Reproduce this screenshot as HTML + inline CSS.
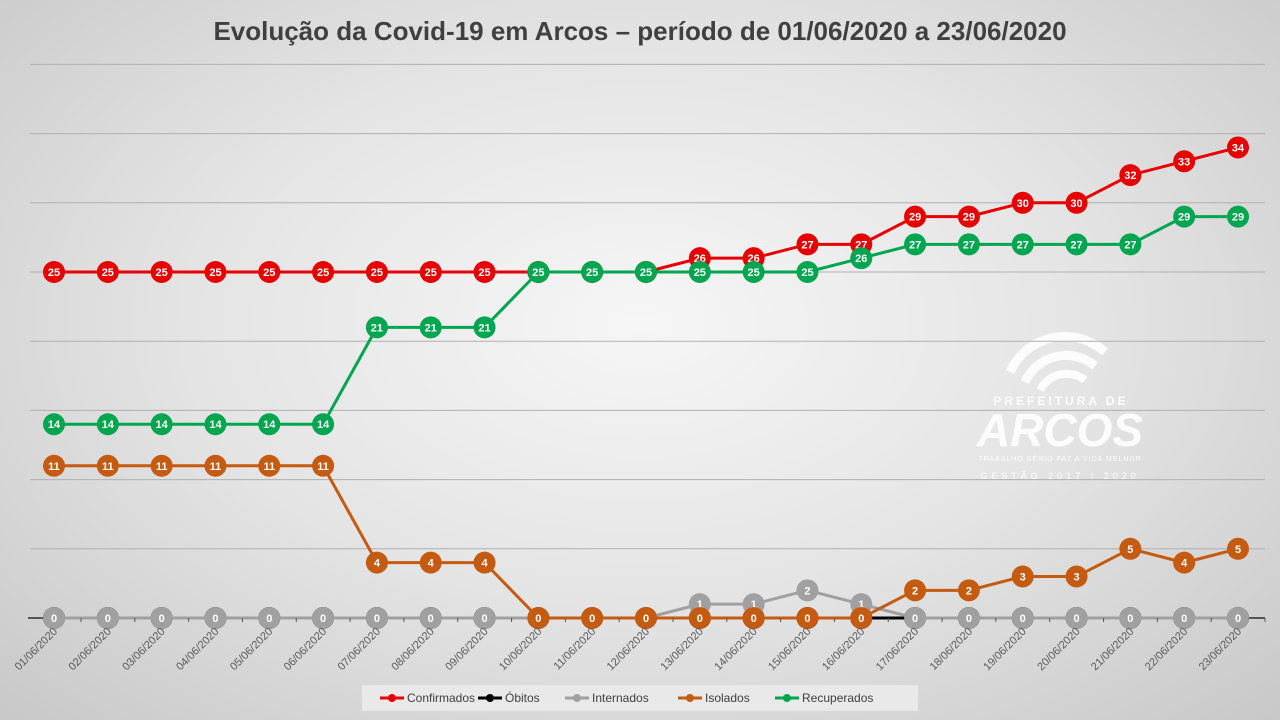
<!DOCTYPE html>
<html><head><meta charset="utf-8"><style>
body{margin:0;width:1280px;height:720px;overflow:hidden;font-family:"Liberation Sans",sans-serif}
#bg{position:absolute;left:0;top:0;width:1280px;height:720px;background:radial-gradient(ellipse at 50% 45%,#f6f6f6 0%,#e4e4e4 50%,#c8c8c8 100%)}
svg{position:absolute;left:0;top:0}
</style></head><body>
<div id="bg"></div>
<svg id="c" width="1280" height="720">
<text x="640" y="40" text-anchor="middle" font-size="26" font-weight="bold" fill="#404040">Evolução da Covid-19 em Arcos – período de 01/06/2020 a 23/06/2020</text>
<g fill="#fff" opacity="0.9">
<path d="M1010 372 A60 60 0 0 1 1105 352" stroke="#fff" stroke-width="9" fill="none"/>
<path d="M1025 382 A45 45 0 0 1 1095 366" stroke="#fff" stroke-width="9" fill="none"/>
<path d="M1040 390 A30 30 0 0 1 1085 380" stroke="#fff" stroke-width="8" fill="none"/>
<text x="1061" y="405" text-anchor="middle" font-size="12" font-weight="bold" letter-spacing="3">PREFEITURA DE</text>
<text x="1060" y="446" text-anchor="middle" font-size="46" font-weight="bold" font-style="italic">ARCOS</text>
<text x="1060" y="461" text-anchor="middle" font-size="7" letter-spacing="1">TRABALHO SÉRIO FAZ A VIDA MELHOR</text>
<text x="1060" y="479" text-anchor="middle" font-size="9" letter-spacing="4">GESTÃO 2017 | 2020</text>
</g>
<g id="grid"></g><g id="series"></g><g id="xl"></g>
<g>
<rect x="362" y="685" width="556" height="26" fill="#e9e9e9"/>
</g>
<g id="leg"></g>
</svg>
<script>
const categories=["01/06/2020","02/06/2020","03/06/2020","04/06/2020","05/06/2020","06/06/2020","07/06/2020","08/06/2020","09/06/2020","10/06/2020","11/06/2020","12/06/2020","13/06/2020","14/06/2020","15/06/2020","16/06/2020","17/06/2020","18/06/2020","19/06/2020","20/06/2020","21/06/2020","22/06/2020","23/06/2020"];
const confirmados=[25,25,25,25,25,25,25,25,25,25,25,25,26,26,27,27,29,29,30,30,32,33,34];
const obitos=[0,0,0,0,0,0,0,0,0,0,0,0,0,0,0,0,0,0,0,0,0,0,0];
const internados=[0,0,0,0,0,0,0,0,0,0,0,0,1,1,2,1,0,0,0,0,0,0,0];
const isolados=[11,11,11,11,11,11,4,4,4,0,0,0,0,0,0,0,2,2,3,3,5,4,5];
const recuperados=[14,14,14,14,14,14,21,21,21,25,25,25,25,25,25,26,27,27,27,27,27,29,29];
const seriesNames=["Confirmados","Óbitos","Internados","Isolados","Recuperados"];
const yTicks=[0,5,10,15,20,25,30,35,40];
const NS="http://www.w3.org/2000/svg";
const colors=["#e60000","#000000","#a0a0a0","#c55a11","#00a550"];
const data=[confirmados,obitos,internados,isolados,recuperados];
function X(i){return 54+i*(1238-54)/(categories.length-1);}
function Y(v){return 618-v*(346/25);}
function mk(t,a,p){const e=document.createElementNS(NS,t);for(const k in a)e.setAttribute(k,a[k]);p.appendChild(e);return e;}
const grid=document.getElementById('grid');
yTicks.forEach(v=>{if(v===0)return;const l=mk('line',{x1:30,x2:1265,y1:Y(v),y2:Y(v),stroke:'#b0b0b0','stroke-width':1},grid);

});
const ax=mk('line',{x1:28,x2:1265,y1:618,y2:618,stroke:'#555','stroke-width':2},grid);


const xl=document.getElementById('xl');
categories.forEach((c,i)=>{const t=mk('text',{x:X(i)+4,y:632,'text-anchor':'end','font-size':11,fill:'#595959',transform:`rotate(-45 ${X(i)+4} 632)`},xl);t.textContent=c;


const tk=mk('line',{x1:X(i)+27,x2:X(i)+27,y1:618,y2:622,stroke:'#555'},xl);

});
const sg=document.getElementById('series');
data.forEach((d,s)=>{const g=mk('g',{},sg);


mk('polyline',{points:d.map((v,i)=>X(i)+','+Y(v)).join(' '),fill:'none',stroke:colors[s],'stroke-width':3},g);
d.forEach((v,i)=>{const c=mk('circle',{cx:X(i),cy:Y(v),r:11,fill:colors[s]},g);


const t=mk('text',{x:X(i),y:Y(v)+4,'text-anchor':'middle','font-size':11,'font-weight':'bold',fill:'#fff'},g);t.textContent=v;

});});
const leg=document.getElementById('leg');
const lx=[380,478,565,678,775];
seriesNames.forEach((n,s)=>{const g=mk('g',{},leg);


mk('line',{x1:lx[s],x2:lx[s]+24,y1:698,y2:698,stroke:colors[s],'stroke-width':3},g);
mk('circle',{cx:lx[s]+12,cy:698,r:4,fill:colors[s]},g);
const t=mk('text',{x:lx[s]+27,y:702,'font-size':12,fill:'#404040'},g);t.textContent=n;});
</script>
</body></html>
